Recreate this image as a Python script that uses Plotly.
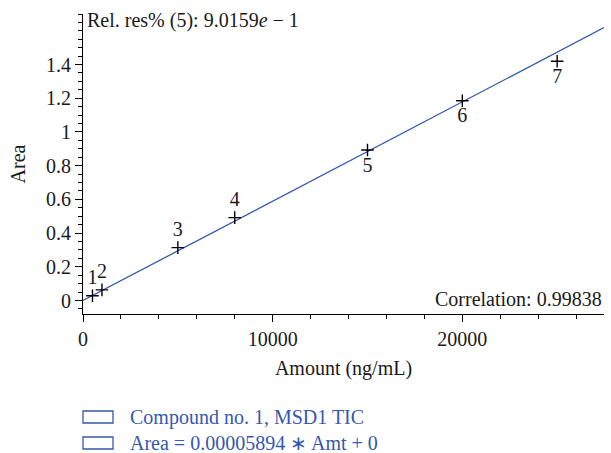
import plotly.graph_objects as go

# Data
amounts = [500, 1000, 5000, 8000, 15000, 20000, 25000]
areas = [0.028, 0.063, 0.314, 0.492, 0.893, 1.185, 1.420]
point_labels = ["1", "2", "3", "4", "5", "6", "7"]
label_pos = ["top center"] * 4 + ["bottom center"] * 3
slope = 0.00005894
fit_x = [0, 27470]
fit_y = [slope * v for v in fit_x]
y_tickvals = [0, 0.2, 0.4, 0.6, 0.8, 1, 1.2, 1.4]
y_ticktext = ["0", "0.2", "0.4", "0.6", "0.8", "1", "1.2", "1.4"]
x_tickvals = [0, 10000, 20000]
x_ticktext = ["0", "10000", "20000"]

FONT = "Liberation Serif"
FS = 20
BLUE = "#3558b0"
TXT = "#1a1a1a"

fig = go.Figure()
fig.add_trace(go.Scatter(
    x=fit_x, y=fit_y, mode="lines",
    line=dict(color=BLUE, width=1.3), showlegend=False, hoverinfo="skip"))
fig.add_trace(go.Scatter(
    x=amounts, y=areas, mode="markers+text",
    marker=dict(symbol="cross-thin-open", size=9, line=dict(color="black", width=1.4), color="black"),
    text=point_labels, textposition=label_pos,
    textfont=dict(family=FONT, size=FS, color=TXT),
    showlegend=False))

fig.update_layout(
    width=611, height=453,
    margin=dict(l=83, r=7, t=14, b=139),
    paper_bgcolor="white", plot_bgcolor="white",
    font=dict(family=FONT, size=FS, color=TXT),
    showlegend=False,
    xaxis=dict(
        range=[0, 27470], showgrid=False, zeroline=False,
        showline=True, linecolor="black", linewidth=1.2,
        ticks="outside", ticklen=7, tickcolor="black", tickwidth=1,
        tickmode="array", tickvals=x_tickvals, ticktext=x_ticktext,
        minor=dict(dtick=2000, tick0=0, ticks="outside", ticklen=4, tickcolor="black", showgrid=False),
        title=dict(text="Amount (ng/mL)", standoff=11, font=dict(family=FONT, size=FS, color=TXT)),
    ),
    yaxis=dict(
        range=[-0.08, 1.7], showgrid=False, zeroline=False,
        showline=True, linecolor="black", linewidth=1.2,
        ticks="outside", ticklen=7, tickcolor="black", tickwidth=1,
        tickmode="array", tickvals=y_tickvals, ticktext=y_ticktext,
        minor=dict(dtick=0.05, tick0=0, ticks="outside", ticklen=4, tickcolor="black", showgrid=False),
        title=dict(text="Area", standoff=14, font=dict(family=FONT, size=FS, color=TXT)),
    ),
)

fig.add_annotation(
    x=0, xref="paper", xshift=2, y=1.663, yref="y",
    text="Rel. res% (5): 9.0159<i>e</i> − 1", showarrow=False,
    xanchor="left", yanchor="middle", font=dict(family=FONT, size=FS, color=TXT))
fig.add_annotation(
    x=1, xref="paper", y=0.01, yref="y",
    text="Correlation: 0.99838", showarrow=False,
    xanchor="right", yanchor="middle", font=dict(family=FONT, size=FS, color=TXT))

# Legend drawn as shapes + text
legend_items = ["Compound no. 1, MSD1 TIC", "Area = 0.00005894 ∗ Amt + 0"]
legend_rows = [417, 443]
for txt, yc in zip(legend_items, legend_rows):
    fig.add_shape(type="rect", xref="paper", yref="paper",
                  x0=(83 - 83) / 521, x1=(113 - 83) / 521,
                  y0=(314 - (yc - 6)) / 300, y1=(314 - (yc + 6)) / 300,
                  line=dict(color=BLUE, width=1.3), fillcolor="white")
    fig.add_annotation(x=(128 - 83) / 521, xref="paper", y=(314 - yc) / 300, yref="paper",
                       text=txt, showarrow=False, xanchor="left", yanchor="middle",
                       font=dict(family=FONT, size=FS, color=BLUE))

fig.write_html("out.html")
